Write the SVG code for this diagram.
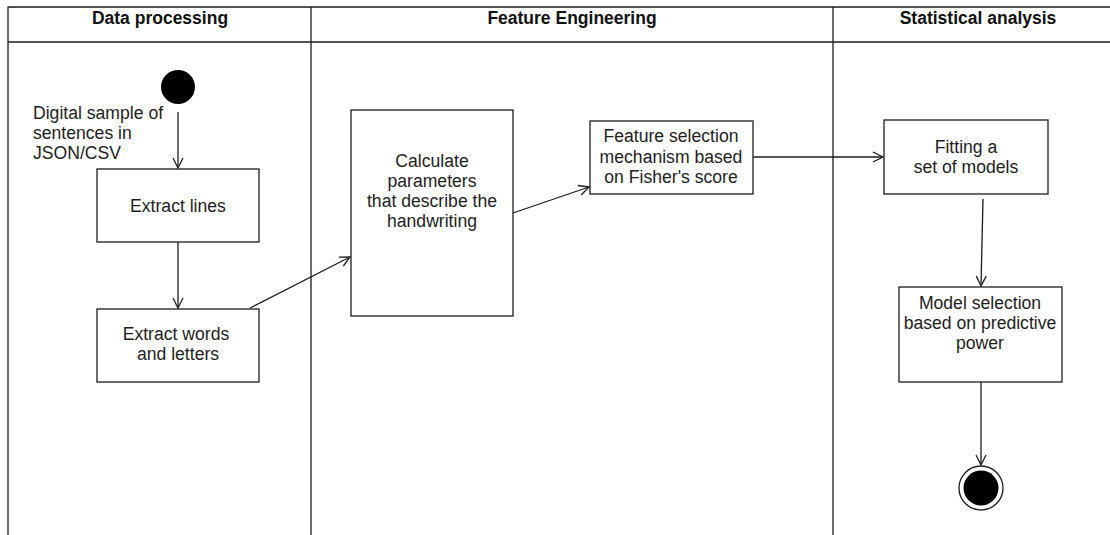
<svg xmlns="http://www.w3.org/2000/svg" width="1110" height="535" viewBox="0 0 1110 535">
<style>
.ln{fill:none;stroke:#1e1e1e;stroke-width:1.3}
.box{fill:#fff;stroke:#1e1e1e;stroke-width:1.3}
.t{font-family:"Liberation Sans",Arial,sans-serif;font-size:17.6px;fill:#1e1e1e;text-anchor:middle}
.h{font-family:"Liberation Sans",Arial,sans-serif;font-size:17.5px;font-weight:bold;fill:#111;text-anchor:middle}
.c{stroke:#1e1e1e;stroke-width:1.3;fill:none;marker-end:url(#arr)}
</style>
<defs>
<marker id="arr" viewBox="0 0 12 12" refX="11" refY="6" markerWidth="12" markerHeight="12" markerUnits="userSpaceOnUse" orient="auto">
<path d="M1,1 L11,6 L1,11" fill="none" stroke="#1e1e1e" stroke-width="1.3"/>
</marker>
</defs>
<rect width="1110" height="535" fill="#fff"/>
<g id="lanes">
<path class="ln" d="M8,540 V7 H1115 M8,42 H1115 M311,7 V540 M833,7 V540"/>
<text class="h" x="160" y="24">Data processing</text>
<text class="h" x="572" y="24">Feature Engineering</text>
<text class="h" x="978" y="24">Statistical analysis</text>
</g>
<g id="connectors">
<line class="c" x1="178" y1="112" x2="178" y2="168"/>
<line class="c" x1="178" y1="242" x2="178" y2="308"/>
<line class="c" x1="250" y1="308" x2="350" y2="257"/>
<line class="c" x1="513" y1="213" x2="589" y2="187"/>
<line class="c" x1="753" y1="157" x2="883" y2="157"/>
<line class="c" x1="983" y1="199" x2="981" y2="286"/>
<line class="c" x1="981" y1="382" x2="981" y2="465"/>
</g>
<g id="start">
<circle cx="178" cy="87" r="17" fill="#000"/>
</g>
<g id="input-label">
<text class="t" style="text-anchor:start" x="33" y="119">Digital sample of</text>
<text class="t" style="text-anchor:start" x="33" y="139">sentences in</text>
<text class="t" style="text-anchor:start" x="33" y="159">JSON/CSV</text>
</g>
<g id="extract-lines">
<rect class="box" x="97" y="169" width="162" height="73"/>
<text class="t" x="178" y="212">Extract lines</text>
</g>
<g id="extract-words">
<rect class="box" x="97" y="309" width="162" height="73"/>
<text class="t" x="176" y="340">Extract words</text>
<text class="t" x="178" y="360">and letters</text>
</g>
<g id="calculate">
<rect class="box" x="351" y="110" width="162" height="206"/>
<text class="t" x="432" y="167">Calculate</text>
<text class="t" x="432" y="187">parameters</text>
<text class="t" x="432" y="207">that describe the</text>
<text class="t" x="432" y="227">handwriting</text>
</g>
<g id="feature-selection">
<rect class="box" x="590" y="121" width="163" height="73"/>
<text class="t" x="671" y="142">Feature selection</text>
<text class="t" x="671" y="163">mechanism based</text>
<text class="t" x="671" y="183">on Fisher's score</text>
</g>
<g id="fitting">
<rect class="box" x="884" y="120" width="164" height="74"/>
<text class="t" x="966" y="153">Fitting a</text>
<text class="t" x="966" y="173">set of models</text>
</g>
<g id="model-selection">
<rect class="box" x="899" y="287" width="163" height="95"/>
<text class="t" x="980" y="309">Model selection</text>
<text class="t" x="980" y="329">based on predictive</text>
<text class="t" x="980" y="349">power</text>
</g>
<g id="end">
<circle cx="981" cy="488" r="22" fill="#fff" stroke="#1e1e1e" stroke-width="1.3"/>
<circle cx="981" cy="488" r="17.5" fill="#000"/>
</g>
</svg>
